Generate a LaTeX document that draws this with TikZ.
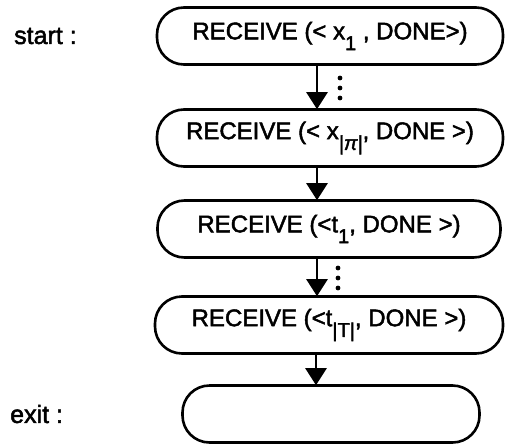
\documentclass[tikz,border=0pt]{standalone}
\usepackage{fontspec}
\setmainfont{Liberation Sans}[FakeBold=2]
\usetikzlibrary{arrows.meta}
\newcommand{\lowsub}[1]{\raisebox{-0.85ex}{\fontsize{20}{20}\selectfont #1}}
\tikzset{
  px/.style={x=1pt,y=-1pt},
  proc/.style={draw, line width=2.6pt, rounded corners=27pt, minimum height=57pt,
    font=\fontsize{24}{24}\selectfont, inner sep=0pt},
  flow/.style={line width=2.6pt, -{Triangle[width=21pt,length=17pt]}, shorten >=-1pt},
  lbl/.style={anchor=west, font=\fontsize{25}{25}\selectfont, inner sep=0pt},
  dot/.style={fill=black, draw=none}
}
\begin{document}
\begin{tikzpicture}[px]
\useasboundingbox (0,0) rectangle (505,444);
\node[proc, minimum width=346pt] (r1) at (330,36) {RECEIVE (< x\lowsub{1} , DONE>)};
\node[proc, minimum width=346pt] (r2) at (330,138) {RECEIVE (< x\lowsub{\textit{|π|}}, DONE >)};
\node[proc, minimum width=343pt] (r3) at (329,229) {RECEIVE (<t\lowsub{1}, DONE >)};
\node[proc, minimum width=348pt] (r4) at (329,325) {RECEIVE (<t\lowsub{|T|}, DONE >)};
\node[proc, minimum width=297pt] (ex) at (331,414) {};
\node[lbl] (ls) at (14,36) {start :};
\node[lbl] (le) at (10,414) {exit :};
\draw[flow] ([xshift=-13pt]r1.south) -- ([xshift=-13pt]r2.north);
\draw[flow] ([xshift=-13pt]r2.south) -- ([xshift=-12pt]r3.north);
\draw[flow] ([xshift=-12pt]r3.south) -- ([xshift=-12pt]r4.north);
\draw[flow] ([xshift=-13pt]r4.south) -- ([xshift=-15pt]ex.north);
% continuation dots between the receive steps
\foreach \y in {78,88,98} \fill[dot] (340,\y) circle (2.4pt);
\foreach \y in {268,278,288} \fill[dot] (338,\y) circle (2.4pt);
\end{tikzpicture}
\end{document}
